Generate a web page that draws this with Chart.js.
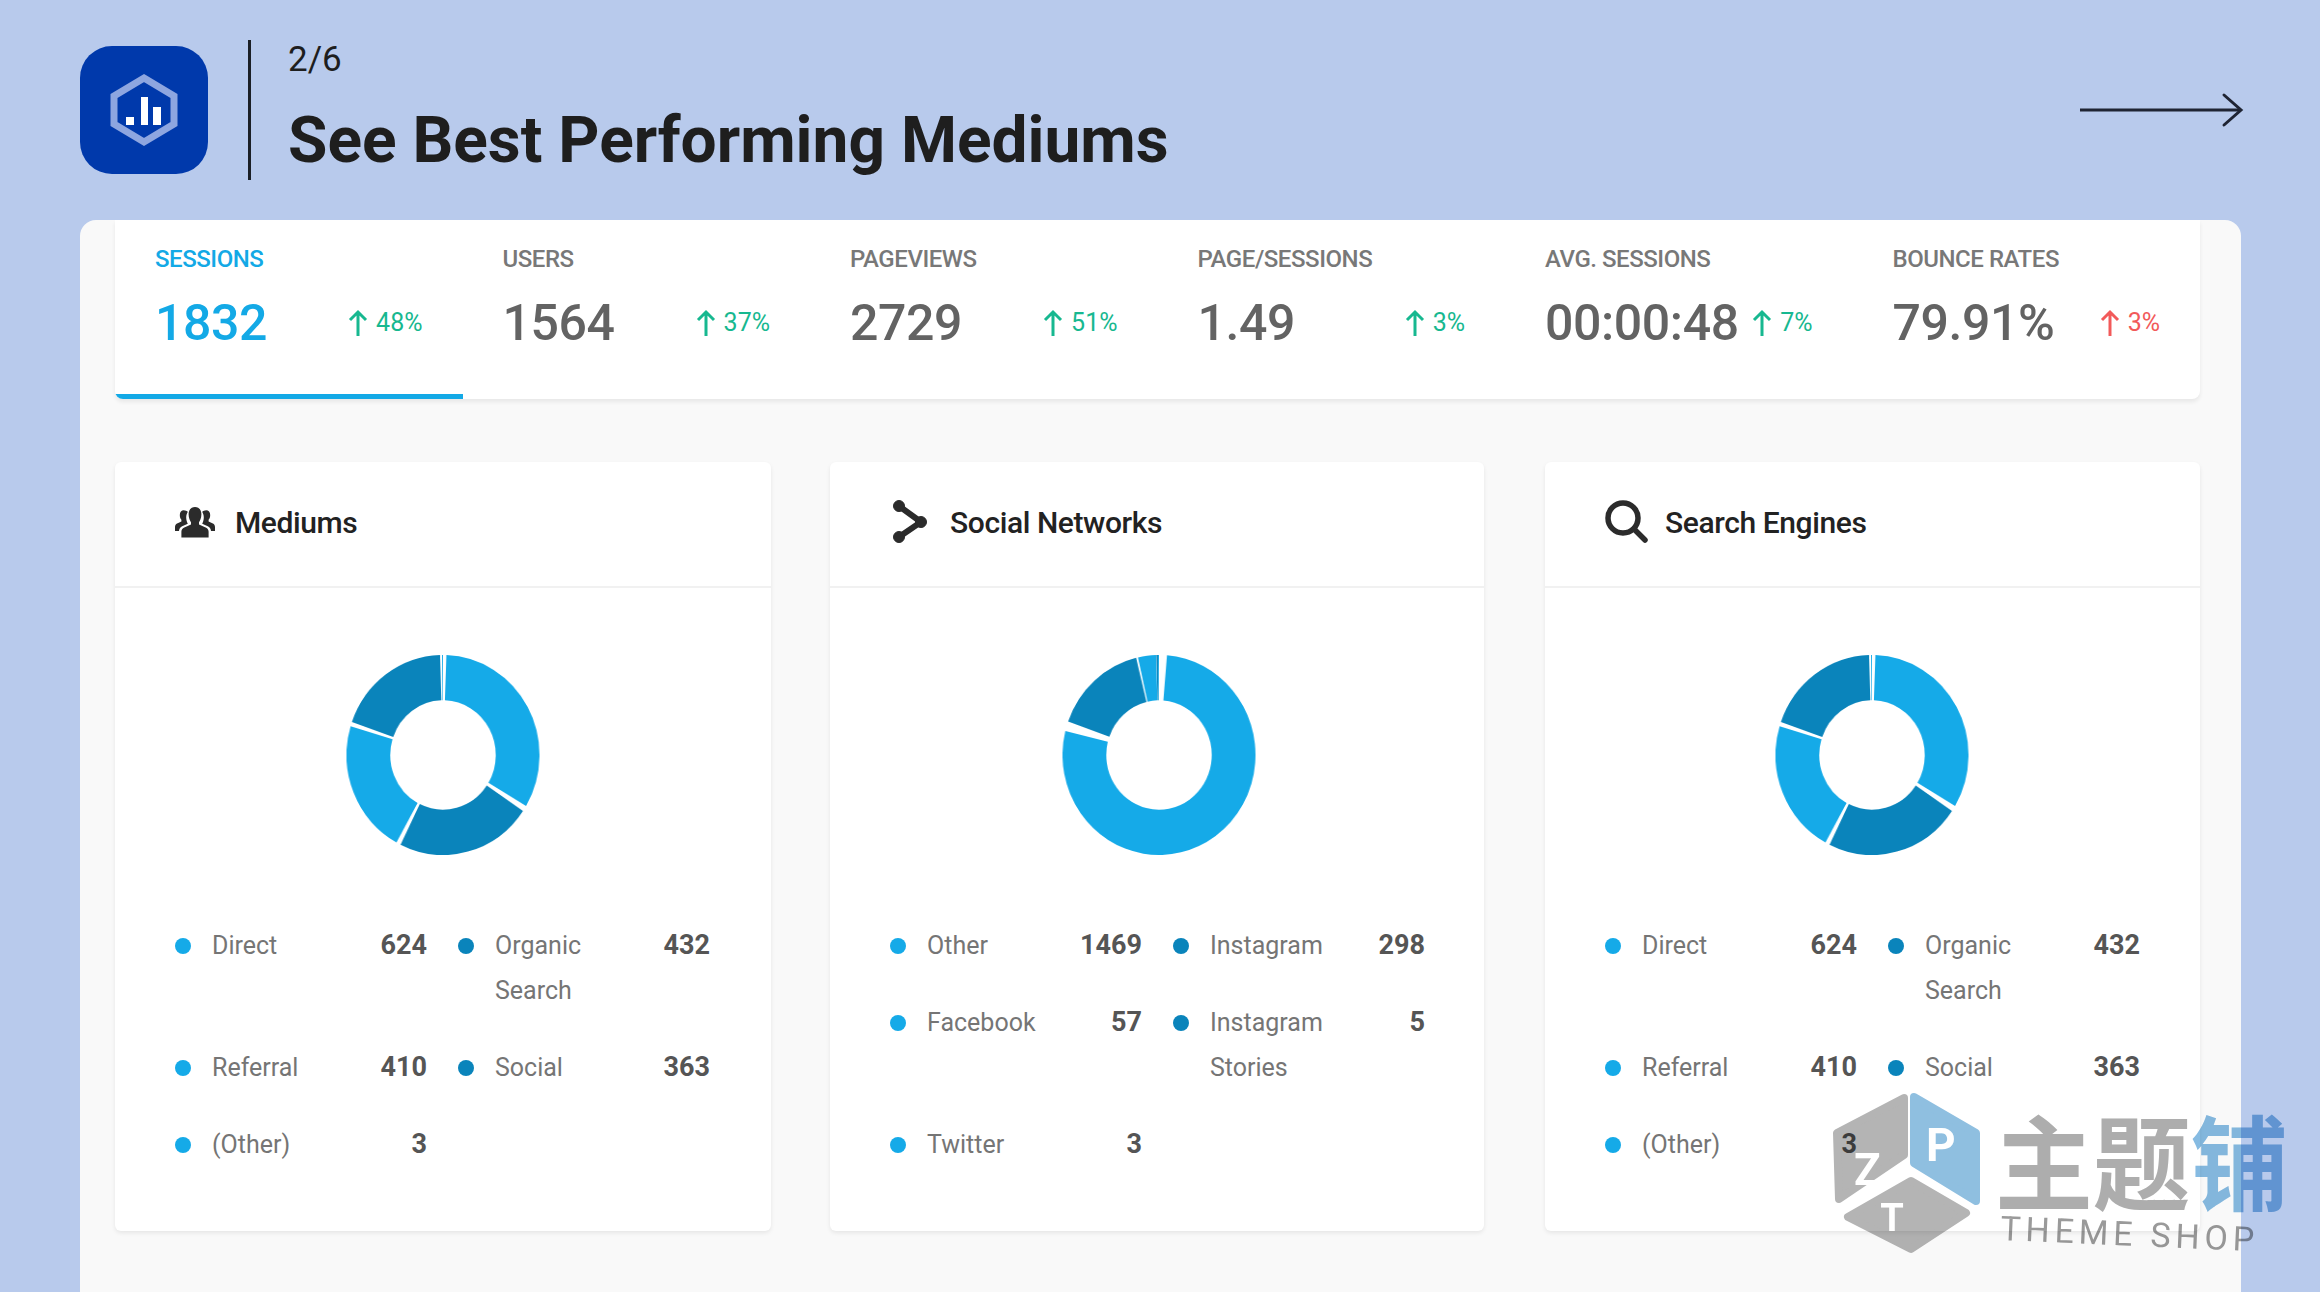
<!DOCTYPE html>
<html lang="en">
<head>
<meta charset="utf-8">
<title>See Best Performing Mediums</title>
<script src="https://cdn.jsdelivr.net/npm/chart.js@4/dist/chart.umd.min.js"></script>
<style>
  * { box-sizing: border-box; margin: 0; padding: 0; }
  html, body { width: 2320px; height: 1292px; overflow: hidden; }
  body { position: relative; background: #b8caec; font-family: Roboto, sans-serif; color: #1e1e1e; }

  /* ── Page header ─────────────────────────────────────────── */
  .logo { position: absolute; left: 80px; top: 46px; width: 128px; height: 128px; }
  .rule { position: absolute; left: 248px; top: 40px; width: 3px; height: 140px; background: #1b1f26; }
  .step { position: absolute; left: 288px; top: 38px; font-size: 35px; line-height: 44px; }
  .title { position: absolute; left: 288px; top: 101px; font-size: 64px; line-height: 80px; font-weight: 700; white-space: nowrap; }
  .next { position: absolute; left: 2076px; top: 90px; width: 168px; height: 40px; }

  /* ── Panel and stat tabs ─────────────────────────────────── */
  .panel { position: absolute; left: 80px; top: 220px; width: 2161px; height: 1072px; background: #f9f9f9; border-radius: 16px 16px 0 0; }
  .tabs { position: absolute; left: 115px; top: 220px; width: 2085px; height: 179px; background: #fff; border-radius: 0 0 8px 8px; box-shadow: 0 3px 4px rgba(0,0,0,.07); display: flex; overflow: hidden; }
  .tab { position: relative; width: 347.5px; height: 179px; }
  .tab.active::after { content: ''; position: absolute; left: 0; right: 0; bottom: 0; height: 5px; background: #13a9e6; }
  .tab-label { position: absolute; left: 40px; top: 24px; font-size: 24px; line-height: 30px; font-weight: 500; letter-spacing: -.45px; color: #787878; white-space: nowrap; }
  .tab-value { position: absolute; left: 40px; top: 71px; font-size: 50px; line-height: 64px; font-weight: 500; letter-spacing: -.4px; color: #636363; white-space: nowrap; }
  .tab.active .tab-label, .tab.active .tab-value { color: #13a9e6; }
  .tab-change { position: absolute; right: 40px; top: 87px; font-size: 25px; line-height: 32px; display: flex; align-items: center; gap: 7px; }
  .tab-change svg { width: 22px; height: 28px; }

  /* ── Breakdown cards ─────────────────────────────────────── */
  .card { position: absolute; top: 462px; height: 769px; background: #fff; border-radius: 6px; box-shadow: 0 2px 4px rgba(0,0,0,.08); }
  .card-head { height: 126px; border-bottom: 2px solid #f1f1f1; position: relative; }
  .card-head svg { position: absolute; left: 50px; top: 35px; width: 60px; height: 60px; }
  .card-head span { position: absolute; left: 120px; top: 41px; font-size: 30px; line-height: 40px; font-weight: 500; letter-spacing: -.4px; color: #222; white-space: nowrap; }
  .donut { position: absolute; top: 193px; width: 200px; height: 200px; transform: scaleX(.965); }
  .legend { position: absolute; left: 60px; top: 460.5px; display: grid; grid-template-columns: 283px 283px; }
  .entry { position: relative; padding-left: 37px; margin-bottom: 32px; display: flex; line-height: 45px; font-size: 25px; color: #757575; }
  .entry i { position: absolute; left: 0; top: 15px; width: 16px; height: 16px; border-radius: 50%; }
  .entry .name { width: 132px; }
  .entry b { position: absolute; left: 162px; width: 90px; text-align: right; font-size: 27px; font-weight: 700; color: #555; }

  /* ── Site mark in the lower corner ───────────────────────── */
  .mark { position: absolute; left: 1820px; top: 1085px; width: 480px; height: 190px; pointer-events: none; filter: blur(.7px); mix-blend-mode: multiply; }
</style>
</head>
<body>

<svg class="logo" viewBox="0 0 128 128">
  <rect width="128" height="128" rx="32" fill="#0039ab"/>
  <polygon points="64,32 94,50 94,78 64,96 34,78 34,50" fill="none" stroke="#8ea6e0" stroke-width="7"/>
  <rect x="46" y="71" width="8" height="8" fill="#fff"/>
  <rect x="61" y="51" width="7" height="28" fill="#fff"/>
  <rect x="73" y="61" width="8" height="18" fill="#fff"/>
</svg>
<div class="rule"></div>
<div class="step">2/6</div>
<div class="title">See Best Performing Mediums</div>
<svg class="next" viewBox="0 0 168 40" fill="none" stroke="#1f2433" stroke-width="3">
  <path d="M4 20H164"/>
  <path d="M148 5L165 20L148 35" stroke-linecap="round"/>
</svg>

<div class="panel"></div>
<div class="tabs" id="tabs"></div>
<div id="cards"></div>

<svg class="mark" viewBox="0 0 480 190">
  <g stroke-width="8" stroke-linejoin="round">
    <polygon points="84,13 17,48 19,114 84,70" fill="#b4b4b4" stroke="#b4b4b4"/>
    <polygon points="94,12 156,48 156,116 94,78" fill="#8fbfe0" stroke="#8fbfe0"/>
    <polygon points="91,96 28,132 91,164 146,128" fill="#b4b4b4" stroke="#b4b4b4"/>
  </g>
  <text x="106" y="76" font-family="Roboto" font-weight="700" font-size="46" fill="#fff">P</text>
  <text x="34" y="100" font-family="Roboto" font-weight="700" font-size="44" fill="#fff">Z</text>
  <text x="72" y="146" font-family="Roboto" font-weight="700" font-size="38" fill="#fff" text-anchor="middle">T</text>
  <g transform="translate(175 118) scale(.94 1)" font-family="'Noto Sans CJK SC'" font-weight="700" font-size="104">
    <text x="0" y="0" fill="#adadad">主题</text>
    <text x="208" y="0" fill="#86bbe2">铺</text>
  </g>
  <text x="180" y="155" font-family="Roboto" font-size="34" fill="#9a9a9a" textLength="254" transform="rotate(2.5 180 155)">THEME SHOP</text>
</svg>

<script>
// ── Stat tabs ───────────────────────────────────────────────
const statLabels  = ['SESSIONS', 'USERS', 'PAGEVIEWS', 'PAGE/SESSIONS', 'AVG. SESSIONS', 'BOUNCE RATES'];
const statValues  = ['1832', '1564', '2729', '1.49', '00:00:48', '79.91%'];
const statChanges = ['48%', '37%', '51%', '3%', '7%', '3%'];
const statColors  = ['#17b890', '#17b890', '#17b890', '#17b890', '#17b890', '#f25a5a'];

// ── Breakdown values ────────────────────────────────────────
const mediumLabels  = ['Direct', 'Organic Search', 'Referral', 'Social', '(Other)'];
const mediumValues  = [624, 432, 410, 363, 3];
const networkLabels = ['Other', 'Instagram', 'Facebook', 'Instagram Stories', 'Twitter'];
const networkValues = [1469, 298, 57, 5, 3];
const engineLabels  = ['Direct', 'Organic Search', 'Referral', 'Social', '(Other)'];
const engineValues  = [624, 432, 410, 363, 3];

const LIGHT = '#15aae8';
const DARK  = '#0a84bb';
const sliceColors = [LIGHT, DARK, LIGHT, DARK, LIGHT];

const ICONS = {
  people: `<g transform="translate(6 .4) scale(.8)">
             <path fill="#2b2b2b" d="M30 12c5 0 8 4 8 9s-2 8-3 10v3l9 4c2 1 3 3 3 5v7H13v-7c0-2 1-4 3-5l9-4v-3c-1-2-3-5-3-10s3-9 8-9z"/>
             <path fill="#2b2b2b" d="M16 16c2 0 4 1 5 2-1 2-2 4-2 7 0 3 1 6 2 8l-7 3c-2 1-4 3-4 6H5v-5c0-2 1-3 2-4l6-3v-2c-1-1-2-3-2-6 0-4 2-6 5-6zM44 16c-2 0-4 1-5 2 1 2 2 4 2 7 0 3-1 6-2 8l7 3c2 1 4 3 4 6h5v-5c0-2-1-3-2-4l-6-3v-2c1-1 2-3 2-6 0-4-2-6-5-6z"/>
           </g>`,
  share: `<g fill="#2b2b2b" stroke="#2b2b2b"><path fill="none" stroke-width="6" d="M19 9L41 25L19 40"/><circle cx="19" cy="9" r="5.5"/><circle cx="41" cy="25" r="5.5"/><circle cx="19" cy="40" r="5.5"/></g>`,
  search: `<g fill="none" stroke="#2b2b2b" stroke-width="5.5"><circle cx="28" cy="21" r="15"/><path stroke-linecap="round" d="M39 32L50 43"/></g>`,
};

function renderTabs() {
  document.getElementById('tabs').innerHTML = statLabels.map((label, i) => `
    <div class="tab${i === 0 ? ' active' : ''}">
      <div class="tab-label">${label}</div>
      <div class="tab-value">${statValues[i]}</div>
      <div class="tab-change" style="color:${statColors[i]}">
        <svg viewBox="0 0 22 28" fill="none" stroke="currentColor" stroke-width="3"><path d="M11 27V3M3 11L11 3L19 11"/></svg>
        ${statChanges[i]}
      </div>
    </div>`).join('');
}

/**
 * Build one card: header, doughnut canvas and the two-column legend.
 */
function renderCard(title, icon, left, width, donutLeft, labels, values) {
  const card = document.createElement('div');
  card.className = 'card';
  card.style.left = left + 'px';
  card.style.width = width + 'px';
  const rows = labels.map((name, i) => `
    <div class="entry">
      <i style="background:${sliceColors[i]}"></i>
      <span class="name">${name}</span>
      <b>${values[i]}</b>
    </div>`).join('');
  card.innerHTML = `
    <div class="card-head"><svg viewBox="0 0 60 60">${ICONS[icon]}</svg><span>${title}</span></div>
    <div class="donut" style="left:${donutLeft}px"><canvas></canvas></div>
    <div class="legend">${rows}</div>`;
  document.getElementById('cards').appendChild(card);

  new Chart(card.querySelector('canvas'), {
    type: 'doughnut',
    data: {
      labels,
      datasets: [{
        data: values,
        backgroundColor: sliceColors,
        borderWidth: 0,
        spacing: 5,
      }],
    },
    options: {
      responsive: true,
      maintainAspectRatio: false,
      animation: false,
      cutout: '53.5%',
      layout: { padding: 0 },
      plugins: { legend: { display: false }, tooltip: { enabled: false } },
    },
  });
}

renderTabs();
renderCard('Mediums', 'people', 115, 656, 228, mediumLabels, mediumValues);
renderCard('Social Networks', 'share', 830, 654, 229, networkLabels, networkValues);
renderCard('Search Engines', 'search', 1545, 655, 227, engineLabels, engineValues);
</script>
</body>
</html>
